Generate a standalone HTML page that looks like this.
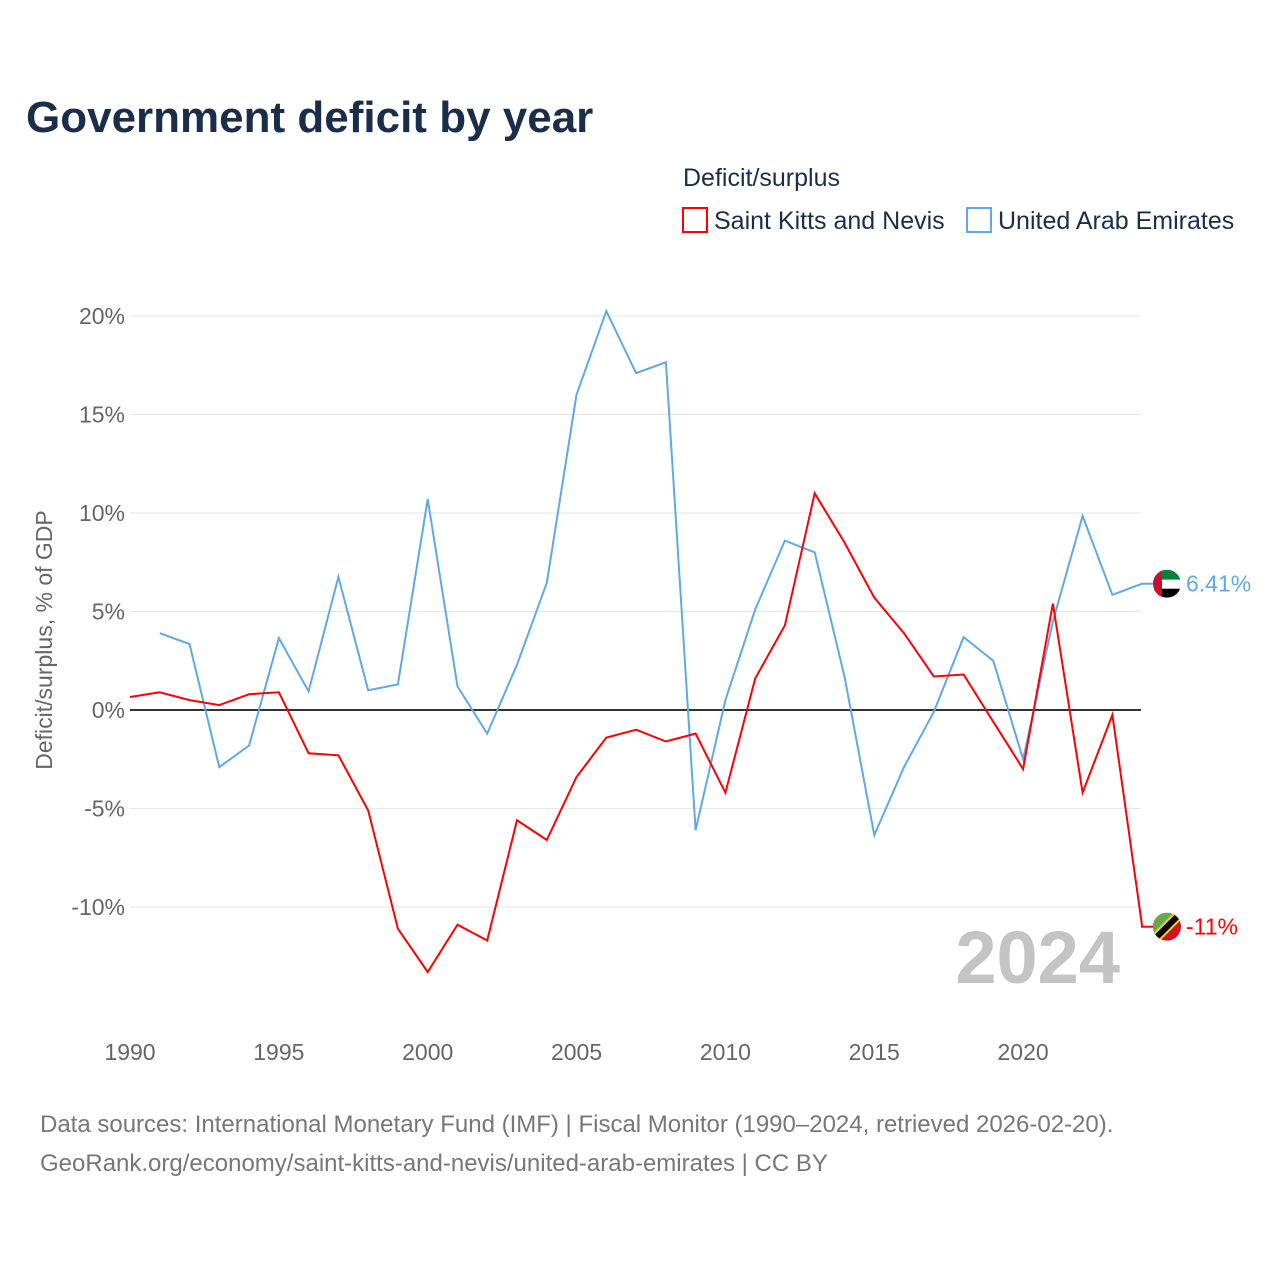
<!DOCTYPE html>
<html><head><meta charset="utf-8"><style>
body{margin:0;background:#fff;font-family:"Liberation Sans",sans-serif}
svg text{font-family:"Liberation Sans",sans-serif}
</style></head><body>
<svg width="1280" height="1280" viewBox="0 0 1280 1280">
<text x="26" y="132" font-size="44" font-weight="bold" fill="#1a2e4c">Government deficit by year</text>
<text x="683" y="186" font-size="25" fill="#1a2e4c">Deficit/surplus</text>
<g><rect x="683" y="208" width="24" height="24" fill="#fff" stroke="red" stroke-width="2"/><text x="714" y="229" font-size="25" fill="#1a2e4c">Saint Kitts and Nevis</text></g>
<g><rect x="967" y="208" width="24" height="24" fill="#fff" stroke="#5ea9ea" stroke-width="2"/><text x="998" y="229" font-size="25" fill="#1a2e4c">United Arab Emirates</text></g>
<g id="grid"></g>
<text transform="translate(52,640) rotate(-90)" text-anchor="middle" font-size="23" fill="#666">Deficit/surplus, % of GDP</text>
<text x="1120" y="983" text-anchor="end" font-size="74" font-weight="bold" fill="#c4c4c4">2024</text>
<g id="series"></g>
<text x="40" y="1132" font-size="24" fill="#777">Data sources: International Monetary Fund (IMF) | Fiscal Monitor (1990–2024, retrieved 2026-02-20).</text>
<text x="40" y="1171" font-size="24" fill="#777">GeoRank.org/economy/saint-kitts-and-nevis/united-arab-emirates | CC BY</text>
</svg>
<script>
const years=[];for(let y=1990;y<=2024;y++)years.push(y);
const sknValues=[0.66,0.9,0.5,0.25,0.8,0.9,-2.2,-2.3,-5.1,-11.1,-13.3,-10.9,-11.7,-5.6,-6.6,-3.4,-1.4,-1.0,-1.6,-1.2,-4.2,1.6,4.3,11.0,8.5,5.7,3.9,1.7,1.8,-0.6,-3.0,5.4,-4.2,-0.25,-11.0];
const uaeValues=[null,3.9,3.35,-2.9,-1.8,3.65,0.95,6.75,1.0,1.3,10.7,1.2,-1.2,2.3,6.45,16.0,20.25,17.1,17.65,-6.1,0.5,5.1,8.6,8.0,1.7,-6.35,-2.9,-0.1,3.7,2.5,-2.5,4.5,9.85,5.85,6.41];
const yTicks=[20,15,10,5,0,-5,-10];
const xTicks=[1990,1995,2000,2005,2010,2015,2020];
const NS='http://www.w3.org/2000/svg';
const xS=y=>130+(y-1990)*29.77;
const yS=v=>710-v*19.7;
function mk(t,a,p){const e=document.createElementNS(NS,t);for(const k in a)e.setAttribute(k,a[k]);p.appendChild(e);return e;}
const g=document.getElementById('grid');
yTicks.forEach(v=>{
 const l=mk('line',{x1:130,x2:1141,y1:yS(v),y2:yS(v),stroke:v===0?'#333':'#e6e6e6','stroke-width':v===0?2:1},g);
 
 
 const t=mk('text',{x:125,y:yS(v)+8,'text-anchor':'end','font-size':23,fill:'#666'},g);
 t.textContent=v+'%';
 
 
});
xTicks.forEach(y=>{
 const t=mk('text',{x:xS(y),y:1060,'text-anchor':'middle','font-size':23,fill:'#666'},g);
 t.textContent=y;
 
 
});
const s=document.getElementById('series');
function line(vals,col,name){
 let d='';vals.forEach((v,i)=>{if(v===null)return;d+=(d?'L':'M')+xS(years[i]).toFixed(1)+' '+yS(v).toFixed(1);});
 const p=mk('path',{d:d,fill:'none',stroke:col,'stroke-width':2},s);
 
 
}
line(uaeValues,'#5ea9ea','line-uae');
line(sknValues,'red','line-skn');
function end(vals,col,name,label,flag){
 const v=vals[vals.length-1];const y=yS(v);
 const l=mk('line',{x1:1141,x2:1153,y1:y,y2:y,stroke:col,'stroke-width':2},s);
 
 
 const gg=mk('g',{},s);
 
 
 const cp=mk('clipPath',{id:'c'+name},gg);mk('circle',{cx:1167,cy:y,r:14},cp);
 const fg=mk('g',{'clip-path':'url(#c'+name+')'},gg);
 if(flag==='uae'){
  mk('rect',{x:1153,y:y-14,width:28,height:10,fill:'#00843d'},fg);
  mk('rect',{x:1153,y:y-4,width:28,height:9,fill:'#fff'},fg);
  mk('rect',{x:1153,y:y+5,width:28,height:9,fill:'#000'},fg);
  mk('rect',{x:1153,y:y-14,width:9,height:28,fill:'#c8102e'},fg);
 }else{
  mk('rect',{x:1153,y:y-14,width:28,height:28,fill:'#ce1126'},fg);
  mk('polygon',{points:`1153,${y-14} 1181,${y-14} 1153,${y+14}`,fill:'#6aa84f'},fg);
  mk('line',{x1:1153,y1:y+14,x2:1181,y2:y-14,stroke:'#fcd116','stroke-width':10},fg);
  mk('line',{x1:1153,y1:y+14,x2:1181,y2:y-14,stroke:'#000','stroke-width':6},fg);
 }
 const t=mk('text',{x:1186,y:y+8,'font-size':23,fill:col},s);
 t.textContent=label;
 
 
}
end(uaeValues,'#5ea9ea','uae','6.41%','uae');
end(sknValues,'red','skn','-11%','skn');
</script>
</body></html>
